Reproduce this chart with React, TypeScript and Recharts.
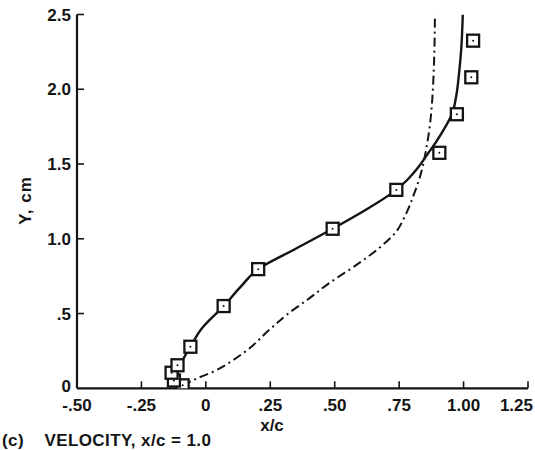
import React from 'react';
import { ComposedChart, Line, Scatter, XAxis, YAxis, Label } from 'recharts';

// Axis ticks and labels
const xTicks = [-0.5, -0.25, 0, 0.25, 0.5, 0.75, 1.0, 1.25];
const xTickLabels = ['-.50', '-.25', '0', '.25', '.50', '.75', '1.00', '1.25'];
const yTicks = [0, 0.5, 1.0, 1.5, 2.0, 2.5];
const yTickLabels = ['0', '.5', '1.0', '1.5', '2.0', '2.5'];

// Measured data (squares)
const measuredX = [-0.09, -0.124, -0.133, -0.11, -0.06, 0.069, 0.203, 0.492, 0.739, 0.906, 0.974, 1.03, 1.037];
const measuredY = [0.02, 0.052, 0.104, 0.154, 0.278, 0.55, 0.797, 1.067, 1.327, 1.575, 1.833, 2.08, 2.325];

// Solid curve
const solidX = [-0.115, -0.098, -0.06, -0.016, 0.069, 0.132, 0.203, 0.347, 0.492, 0.616, 0.739, 0.785, 0.825, 0.862, 0.898, 0.928, 0.955, 0.971, 0.982, 0.991, 0.997];
const solidY = [0.08, 0.16, 0.278, 0.4, 0.55, 0.673, 0.797, 0.932, 1.067, 1.189, 1.327, 1.4, 1.48, 1.57, 1.66, 1.745, 1.833, 1.95, 2.1, 2.27, 2.5];

// Dash-dot curve
const dashX = [-0.088, -0.059, 0.033, 0.15, 0.254, 0.32, 0.4, 0.48, 0.58, 0.67, 0.735, 0.775, 0.808, 0.834, 0.855, 0.87, 0.879, 0.885, 0.889];
const dashY = [0.012, 0.046, 0.115, 0.242, 0.403, 0.5, 0.6, 0.705, 0.82, 0.935, 1.04, 1.16, 1.3, 1.434, 1.6, 1.77, 1.945, 2.16, 2.5];

const measured = measuredX.map((x, i) => ({ x, y: measuredY[i] }));
const solid = solidX.map((x, i) => ({ x, y: solidY[i] }));
const dash = dashX.map((x, i) => ({ x, y: dashY[i] }));

const INK = '#141414';
const FONT = '"Liberation Sans", Arial, Helvetica, sans-serif';
const FS = 17;

const XTick = (props: any) => {
  const { x, y, payload, index } = props;
  const i = xTicks.indexOf(payload.value);
  const label = i >= 0 ? xTickLabels[i] : String(payload.value);
  const isLast = index === xTicks.length - 1;
  return (
    <g>
      {index > 0 && <line x1={x} x2={x} y1={y} y2={y - 7} stroke={INK} strokeWidth={1.6} />}
      <text
        x={isLast ? x + 5 : x}
        y={y + 23}
        textAnchor={isLast ? 'end' : 'middle'}
        fontFamily={FONT}
        fontWeight="bold"
        fontSize={FS}
        fill={INK}
      >
        {label}
      </text>
    </g>
  );
};

const YTick = (props: any) => {
  const { x, y, payload, index } = props;
  const i = yTicks.indexOf(payload.value);
  const label = i >= 0 ? yTickLabels[i] : String(payload.value);
  return (
    <g>
      {index > 0 && <line x1={x} x2={x + 7} y1={y} y2={y} stroke={INK} strokeWidth={1.6} />}
      <text
        x={x - 6}
        y={index === 0 ? y - 2.5 : y}
        dy="0.36em"
        textAnchor="end"
        fontFamily={FONT}
        fontWeight="bold"
        fontSize={FS}
        fill={INK}
      >
        {label}
      </text>
    </g>
  );
};

const SquareMarker = (props: any) => {
  const { cx, cy } = props;
  if (cx == null || cy == null) return null;
  return (
    <g>
      <rect x={cx - 6} y={cy - 6} width={12} height={12} fill="#fff" stroke={INK} strokeWidth={2.3} />
      <circle cx={cx} cy={cy} r={1} fill={INK} />
    </g>
  );
};

const XLabels = (props: any) => {
  const vb = props.viewBox || { x: 77, y: 388.3, width: 451, height: 61.7 };
  return (
    <g>
      <text
        x={vb.x + 195}
        y={vb.y + 43}
        textAnchor="middle"
        fontFamily={FONT}
        fontWeight="bold"
        fontSize={FS}
        fill={INK}
      >
        x/c
      </text>
      <text
        x={2}
        y={vb.y + 58}
        textAnchor="start"
        fontFamily={FONT}
        fontWeight="bold"
        fontSize={FS}
        letterSpacing={0.4}
        fill={INK}
        style={{ whiteSpace: 'pre' }}
      >
        {'(c)    VELOCITY, x/c = 1.0'}
      </text>
    </g>
  );
};

const YLabel = (props: any) => {
  const vb = props.viewBox || { x: 0, y: 14.5, width: 77, height: 373.8 };
  const cx = 25;
  const cy = vb.y + vb.height / 2 - 1;
  return (
    <text
      x={cx}
      y={cy}
      dy="0.36em"
      textAnchor="middle"
      transform={`rotate(-90, ${cx}, ${cy})`}
      fontFamily={FONT}
      fontWeight="bold"
      fontSize={FS}
      letterSpacing={1}
      fill={INK}
      style={{ whiteSpace: 'pre' }}
    >
      Y, cm
    </text>
  );
};

export default function App() {
  return (
    <div style={{ position: 'absolute', left: 0, top: 0, width: 535, height: 450, background: '#fff' }}>
      <ComposedChart width={535} height={450} margin={{ top: 14.5, right: 7, bottom: 0, left: 0 }}>
        <XAxis
          type="number"
          dataKey="x"
          domain={[-0.5, 1.25]}
          ticks={xTicks}
          interval={0}
          allowDataOverflow
          height={61.7}
          tickSize={0}
          tickMargin={0}
          tick={<XTick />}
          axisLine={{ stroke: INK, strokeWidth: 2.2 }}
          tickLine={false}
        >
          <Label content={<XLabels />} />
        </XAxis>
        <YAxis
          type="number"
          dataKey="y"
          domain={[0, 2.5]}
          ticks={yTicks}
          interval={0}
          allowDataOverflow
          width={77}
          tickSize={0}
          tickMargin={0}
          tick={<YTick />}
          axisLine={{ stroke: INK, strokeWidth: 2.2 }}
          tickLine={false}
        >
          <Label content={<YLabel />} />
        </YAxis>
        <Line
          data={dash}
          dataKey="y"
          type="monotoneY"
          stroke={INK}
          strokeWidth={2}
          strokeDasharray="9 4 2 4"
          dot={false}
          activeDot={false}
          isAnimationActive={false}
        />
        <Line
          data={solid}
          dataKey="y"
          type="monotoneY"
          stroke={INK}
          strokeWidth={2.4}
          dot={false}
          activeDot={false}
          isAnimationActive={false}
        />
        <Scatter data={measured} dataKey="y" shape={<SquareMarker />} isAnimationActive={false} />
      </ComposedChart>
    </div>
  );
}
